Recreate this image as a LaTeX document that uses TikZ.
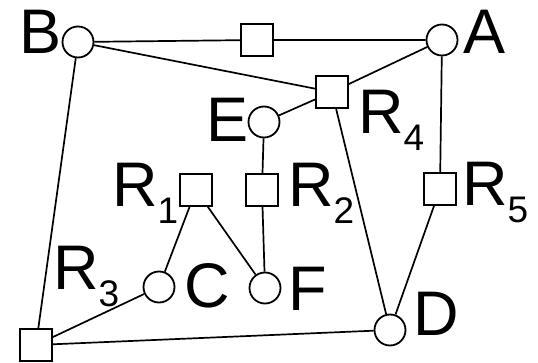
\documentclass[tikz,border=0pt]{standalone}
\usepackage{fontspec}
\setmainfont{Liberation Sans}
\newcommand{\Rsub}[1]{R\raisebox{-17pt}{\fontsize{37}{40}\selectfont #1}}
\begin{document}
\begin{tikzpicture}[x = 1pt, y = -1pt,
        vertex/.style = {draw, circle, line width = 1.8pt, minimum size = 31pt, inner sep = 0},
        box/.style = {draw, rectangle, line width = 1.8pt, minimum size = 31.5pt, inner sep = 0},
        tag/.style = {inner sep = 0, font = \fontsize{63}{70}\selectfont},
        wire/.style = {line width = 1.7pt}]
    \useasboundingbox (0, 0) rectangle (538, 363);
    % hosts
    \node[vertex] (B) at (78, 42) {};
    \node[vertex] (A) at (442, 40) {};
    \node[vertex] (E) at (264, 122) {};
    \node[vertex] (C) at (159, 287) {};
    \node[vertex] (F) at (265, 288) {};
    \node[vertex] (D) at (390, 330) {};
    % routers
    \node[box] (R0) at (257, 40) {};
    \node[box] (R4) at (332, 92) {};
    \node[box] (R1) at (196, 190) {};
    \node[box] (R2) at (262, 190) {};
    \node[box] (R5) at (440, 189) {};
    \node[box] (R3) at (36, 345) {};
    % labels
    \node[tag, anchor = base east] (tB) at (62, 54) {B};
    \node[tag, anchor = base west] (tA) at (463, 54) {A};
    \node[tag, anchor = base east] (tE) at (249, 142) {E};
    \node[tag, anchor = base west] (tC) at (184, 308) {C};
    \node[tag, anchor = base west] (tF) at (288, 310) {F};
    \node[tag, anchor = base west] (tD) at (413, 335) {D};
    \node[tag, anchor = base west] (tR4) at (358, 134) {\Rsub{4}};
    \node[tag, anchor = base west] (tR1) at (112, 207) {\Rsub{1}};
    \node[tag, anchor = base west] (tR2) at (288, 207) {\Rsub{2}};
    \node[tag, anchor = base west] (tR5) at (462, 206) {\Rsub{5}};
    \node[tag, anchor = base west] (tR3) at (53, 290) {\Rsub{3}};
    % links
    \draw[wire] (B) -- (R0) -- (A);
    \draw[wire] (B) -- (R4) -- (A);
    \draw[wire] (E) -- (R4) -- (D);
    \draw[wire] (A) -- (R5) -- (D);
    \draw[wire] (E) -- (R2) -- (F);
    \draw[wire] (C) -- (R1) -- (F);
    \draw[wire] (B) -- (R3) -- (C);
    \draw[wire] (R3) -- (D);
\end{tikzpicture}
\end{document}
